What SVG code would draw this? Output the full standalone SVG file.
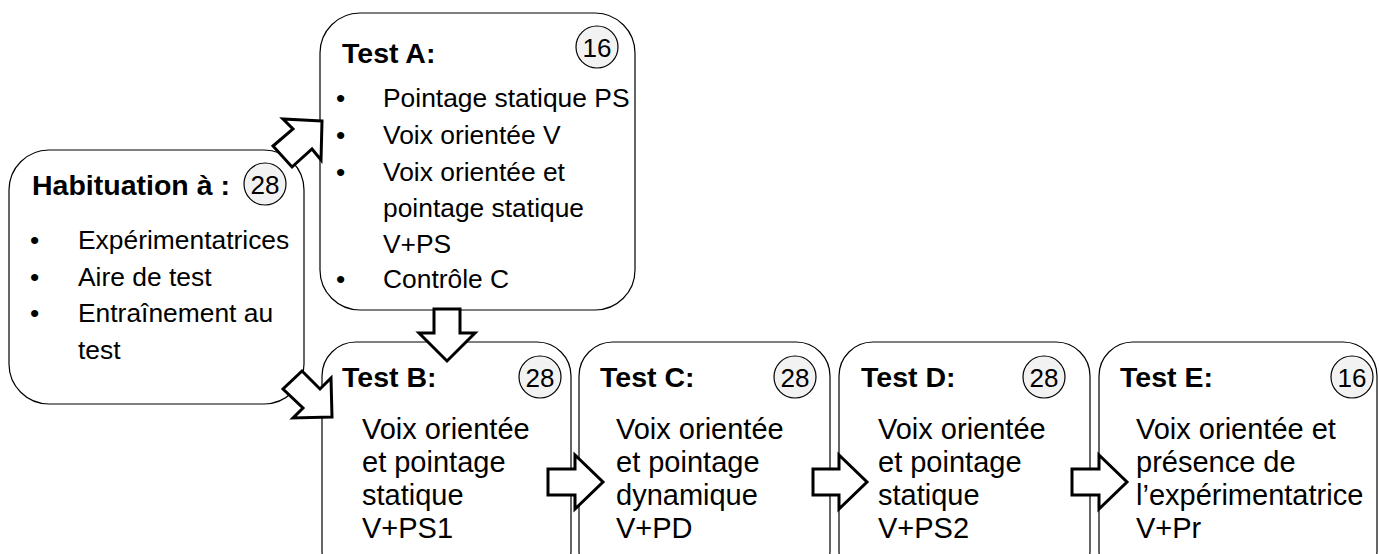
<svg xmlns="http://www.w3.org/2000/svg" width="1379" height="554" viewBox="0 0 1379 554">
<style>
.box{fill:#fff;stroke:#000;stroke-width:1.2}
.arrow{fill:#fff;stroke:#000;stroke-width:3;stroke-linejoin:miter}
.num{fill:#f2f2f2;stroke:#000;stroke-width:1.2}
text{font-family:"Liberation Sans",Arial,sans-serif;fill:#000}
.t{font-size:28.5px;font-weight:bold}
.b{font-size:26.4px}
.c{font-size:29px}
.n{font-size:26px;text-anchor:middle}
</style>
<rect width="1379" height="554" fill="#fff"/>
<g id="habituation">
<rect class="box" x="9" y="150" width="295" height="254" rx="40"/>
<text class="t" x="32" y="195">Habituation à :</text>
<circle class="num" cx="265" cy="184" r="21"/>
<text class="n" x="265" y="193.5">28</text>
<text class="b" x="30" y="249">•</text><text class="b" x="78" y="249">Expérimentatrices</text>
<text class="b" x="30" y="286">•</text><text class="b" x="78" y="286">Aire de test</text>
<text class="b" x="30" y="322">•</text><text class="b" x="78" y="322">Entraînement au</text>
<text class="b" x="78" y="359">test</text>
</g>
<g id="testA">
<rect class="box" x="320" y="13" width="315" height="297" rx="40"/>
<text class="t" x="342" y="63">Test A:</text>
<circle class="num" cx="597" cy="47" r="21"/>
<text class="n" x="597" y="56.5">16</text>
<text class="b" x="336" y="107">•</text><text class="b" x="383" y="107">Pointage statique PS</text>
<text class="b" x="336" y="144">•</text><text class="b" x="383" y="144">Voix orientée V</text>
<text class="b" x="336" y="181">•</text><text class="b" x="383" y="181">Voix orientée et</text>
<text class="b" x="383" y="217">pointage statique</text>
<text class="b" x="383" y="253">V+PS</text>
<text class="b" x="336" y="288">•</text><text class="b" x="383" y="288">Contrôle C</text>
</g>
<g id="testB">
<rect class="box" x="322" y="342" width="249" height="243" rx="34"/>
<text class="t" x="342" y="387">Test B:</text>
<circle class="num" cx="540" cy="377" r="21"/>
<text class="n" x="540" y="386.5">28</text>
<text class="c" x="362" y="439">Voix orientée</text>
<text class="c" x="362" y="472">et pointage</text>
<text class="c" x="362" y="505">statique</text>
<text class="c" x="362" y="538">V+PS1</text>
</g>
<g id="testC">
<rect class="box" x="579" y="342" width="251" height="243" rx="34"/>
<text class="t" x="600" y="387">Test C:</text>
<circle class="num" cx="795" cy="377" r="21"/>
<text class="n" x="795" y="386.5">28</text>
<text class="c" x="616" y="439">Voix orientée</text>
<text class="c" x="616" y="472">et pointage</text>
<text class="c" x="616" y="505">dynamique</text>
<text class="c" x="616" y="538">V+PD</text>
</g>
<g id="testD">
<rect class="box" x="839" y="342" width="251" height="243" rx="34"/>
<text class="t" x="861" y="387">Test D:</text>
<circle class="num" cx="1044" cy="377" r="21"/>
<text class="n" x="1044" y="386.5">28</text>
<text class="c" x="878" y="439">Voix orientée</text>
<text class="c" x="878" y="472">et pointage</text>
<text class="c" x="878" y="505">statique</text>
<text class="c" x="878" y="538">V+PS2</text>
</g>
<g id="testE">
<rect class="box" x="1099" y="342" width="278" height="243" rx="34"/>
<text class="t" x="1120" y="387">Test E:</text>
<circle class="num" cx="1352" cy="377" r="21"/>
<text class="n" x="1352" y="386.5">16</text>
<text class="c" x="1136" y="439">Voix orientée et</text>
<text class="c" x="1136" y="472">présence de</text>
<text class="c" x="1136" y="505">l’expérimentatrice</text>
<text class="c" x="1136" y="538">V+Pr</text>
</g>
<g id="connectors">
<polygon class="arrow" points="322,121 283,119 293,129 273,146 292,167 312,149 321,160"/>
<polygon class="arrow" points="332,417 293,418 303,408 283,389 302,371 320,389 331,378"/>
<polygon class="arrow" points="434,309 460,309 460,333 475,333 447,361 419,333 434,333"/>
<polygon class="arrow" points="548,469 575,469 575,455 603,482 575,509 575,495 548,495"/>
<polygon class="arrow" points="813,469 839,469 839,455 867,482 839,509 839,495 813,495"/>
<polygon class="arrow" points="1072,469 1099,469 1099,455 1127,482 1099,509 1099,495 1072,495"/>
</g>
</svg>
